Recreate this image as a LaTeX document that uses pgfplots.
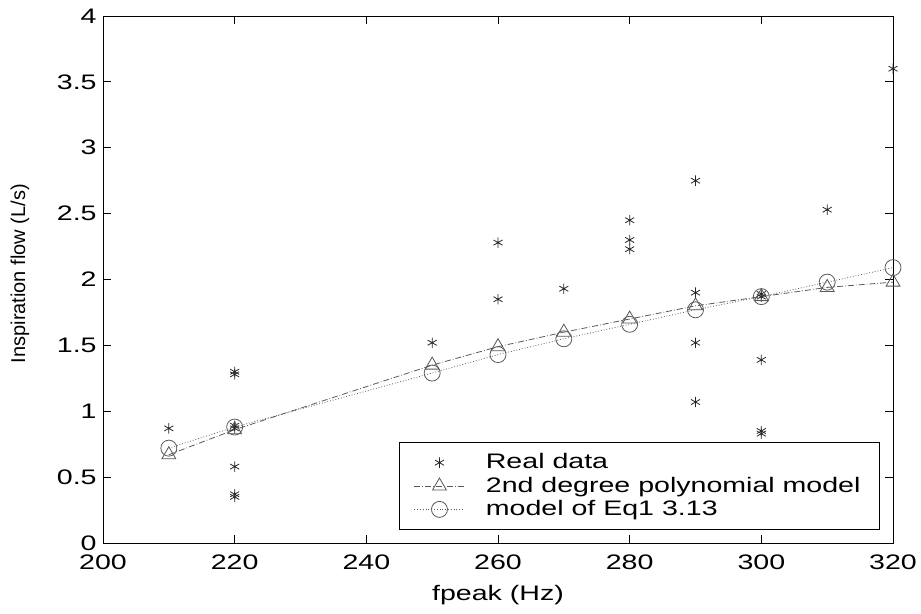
\documentclass[border=0pt]{standalone}
\usepackage{fontspec}
\setmainfont{Liberation Sans}[FakeStretch=1.36]
\newfontfamily\ylabfont{Liberation Sans}
\usepackage{pgfplots}
\pgfplotsset{compat=1.18}
\begin{document}
\fontsize{10.5}{12}\selectfont
\begin{tikzpicture}
\begin{axis}[
  scale only axis,
  width=395pt, height=263.5pt,
  xmin=200, xmax=320, ymin=0, ymax=4,
  xtick={200,220,...,320},
  ytick={0,0.5,...,4},
  yticklabels={0,0.5,1,1.5,2,2.5,3,3.5,4},
  tick align=inside,
  major tick length=4pt,
  tick style={black, thin},
  axis line style={black, thin},
  /pgf/number format/assume math mode=true,
  ticklabel style={font=\fontsize{10.5}{12}\selectfont},
  xticklabel style={anchor=center, inner sep=0pt, yshift=-9.5pt},
  yticklabel style={anchor=east, inner sep=0pt, xshift=-3pt},
  xlabel={fpeak (Hz)},
  ylabel={\ylabfont Inspiration flow (L/s)},
  xlabel style={font=\fontsize{10.5}{12}\selectfont, at={(axis description cs:0.5,0)}, anchor=center, yshift=-26pt},
  ylabel style={font=\fontsize{10}{12}\selectfont, at={(axis description cs:-0.105,0.511)}, anchor=center, rotate=0},
  legend style={at={(0.9835,0.0247)}, anchor=south east, draw=black, thin,
    font=\fontsize{10.5}{12}\selectfont, row sep=-1.5pt, inner xsep=7.5pt, inner ysep=3.5pt,
    legend cell align=left},
  legend image code/.code={
    \draw[#1, mark repeat=2, mark phase=2] plot coordinates {(0pt,0pt) (12.5pt,0pt) (25pt,0pt)};
  },
]
\addplot[only marks, mark=asterisk, mark size=2.6pt, black!85] coordinates {
 (210,0.87) (220,1.30) (220,1.28) (220,0.89) (220,0.87) (220,0.58) (220,0.37) (220,0.35)
 (250,1.52) (260,2.28) (260,1.85) (270,1.93)
 (280,2.45) (280,2.30) (280,2.23)
 (290,2.75) (290,1.90) (290,1.52) (290,1.07)
 (300,1.89) (300,1.87) (300,1.39) (300,0.85) (300,0.83)
 (310,2.53) (320,3.60)
};
\addlegendentry{\hspace{8.5pt}Real data}
\addplot[black!65, densely dashdotted, mark=triangle, mark size=4pt, mark options={solid, black!65}] coordinates {
 (210,0.67) (220,0.86) (250,1.35) (260,1.49) (270,1.60) (280,1.70) (290,1.80) (300,1.87) (310,1.94) (320,1.98)
};
\addlegendentry{\hspace{8.5pt}2nd degree polynomial model}
\addplot[black!65, densely dotted, mark=o, mark size=4pt, mark options={solid, black!65}] coordinates {
 (210,0.72) (220,0.88) (250,1.29) (260,1.43) (270,1.55) (280,1.66) (290,1.77) (300,1.87) (310,1.98) (320,2.09)
};
\addlegendentry{\hspace{8.5pt}model of Eq1 3.13}
\end{axis}
\pgfresetboundingbox
\path (-51.5pt,-35.5pt) rectangle (409pt,271.5pt);
\end{tikzpicture}
\end{document}
